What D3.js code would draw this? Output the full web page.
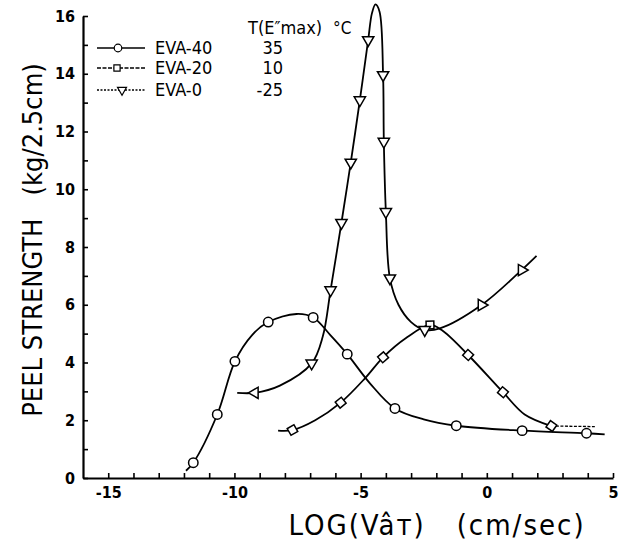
<!DOCTYPE html>
<html>
<head>
<meta charset="utf-8">
<script src="https://cdn.jsdelivr.net/npm/d3@7"></script>
<style>
  body { margin: 0; background: #fff; }
</style>
</head>
<body>
<script>
// ---- data ----
// curve paths (x = log(v*aT), y = peel strength)
const eva40Curve = [[-11.92,0.25],[-11.63,0.53],[-10.68,2.2],[-9.98,4.04],[-9.3,4.95],[-8.66,5.4],[-7.54,5.68],
  [-6.88,5.56],[-6.2,4.95],[-5.53,4.29],[-4.63,3.28],[-3.64,2.41],[-2.5,2.03],[-1.21,1.81],[1.4,1.64],[3.95,1.55],[4.67,1.51]];
const eva40Marks = [[-11.63,0.53],[-10.68,2.2],[-9.98,4.04],[-8.66,5.4],[-6.88,5.56],[-5.53,4.29],[-3.64,2.41],
  [-1.21,1.81],[1.4,1.64],[3.95,1.55]];

const eva20Curve = [[-8.27,1.64],[-7.7,1.66],[-6.8,2.0],[-5.79,2.61],[-4.83,3.45],[-4.11,4.18],[-3.2,4.85],
  [-2.25,5.3],[-1.8,5.13],[-0.74,4.26],[0.64,2.97],[1.5,2.2],[2.56,1.8]];
const eva20Tail = [[2.56,1.8],[4.28,1.78]];
const eva20Marks = [[-7.7,1.66],[-5.79,2.61],[-4.11,4.18],[-2.25,5.3],[-0.74,4.26],[0.64,2.97],[2.56,1.8]];

const eva0Curve = [[-9.89,2.95],[-9.19,2.95],[-8.2,3.2],[-6.94,3.97],[-6.5,4.9],[-6.19,6.51],[-5.76,8.84],
  [-5.39,10.93],[-5.03,13.09],[-4.7,15.17],[-4.55,16.1],[-4.41,16.4],[-4.25,16.15],[-4.11,13.96],[-4.08,11.65],
  [-4.0,9.22],[-3.84,6.92],[-3.5,6.0],[-3.0,5.4],[-2.46,5.13],[-1.86,5.18],[-0.21,5.99],[1.38,7.2],[1.97,7.69]];
const eva0Marks = [[-9.19,2.95],[-6.94,3.97],[-6.19,6.51],[-5.76,8.84],[-5.39,10.93],[-5.03,13.09],[-4.7,15.17],
  [-4.11,13.96],[-4.08,11.65],[-4.0,9.22],[-3.84,6.92],[-2.46,5.13],[-0.21,5.99],[1.38,7.2]];

const legendNames = ["EVA-40", "EVA-20", "EVA-0"];
const legendTemps = ["35", "10", "-25"];

const xTicks = d3.range(-15, 6);
const yTicks = d3.range(0, 17);

// ---- canvas ----
const svg = d3.select("body").append("svg")
    .attr("width", 628)
    .attr("height", 546)
    .style("background", "#fff");

const xScale = d3.scaleLinear().domain([-16, 5]).range([83, 613]);
const yScale = d3.scaleLinear().domain([0, 16]).range([478, 16]);

const tickFont = "'DejaVu Sans Condensed', 'DejaVu Sans', sans-serif";

// x axis, ticks point inward
const xAxis = d3.axisBottom(xScale)
    .tickValues(xTicks)
    .tickSizeInner(-5)
    .tickSizeOuter(0)
    .tickPadding(9)
    .tickFormat(d => d % 5 === 0 ? String(d) : "");
const gx = svg.append("g")
    .attr("transform", "translate(0," + yScale(0) + ")")
    .call(xAxis);

// y axis
const yAxis = d3.axisLeft(yScale)
    .tickValues(yTicks)
    .tickSizeInner(-5)
    .tickSizeOuter(0)
    .tickPadding(8)
    .tickFormat(d => d % 2 === 0 ? String(d) : "");
const gy = svg.append("g")
    .attr("transform", "translate(" + xScale(-16) + ",0)")
    .call(yAxis);

[gx, gy].forEach(g => {
  g.select(".domain").attr("stroke", "#000").attr("stroke-width", 2.2);
  g.selectAll(".tick line").attr("stroke", "#000").attr("stroke-width", 1.6);
  g.selectAll(".tick text")
    .attr("fill", "#000")
    .attr("font-family", tickFont)
    .attr("font-weight", "bold")
    .attr("font-size", "16px");
});

// ---- curves ----
const line = d3.line()
    .x(d => xScale(d[0]))
    .y(d => yScale(d[1]))
    .curve(d3.curveCatmullRom.alpha(0.5));

const plot = svg.append("g");

[eva40Curve, eva20Curve, eva0Curve].forEach(c => {
  plot.append("path")
      .attr("d", line(c))
      .attr("fill", "none")
      .attr("stroke", "#000")
      .attr("stroke-width", 1.8);
});

plot.append("path")
    .attr("d", line(eva20Tail))
    .attr("fill", "none")
    .attr("stroke", "#000")
    .attr("stroke-width", 1.3)
    .attr("stroke-dasharray", "3,1.5");

// markers
const circleSym = d3.symbol().type(d3.symbolCircle).size(70);
const squareSym = d3.symbol().type(d3.symbolSquare).size(60);
const triSym = d3.symbol().type(d3.symbolTriangle).size(55);

plot.selectAll(".m40")
  .data(eva40Marks).enter().append("path")
    .attr("class", "m40")
    .attr("d", circleSym)
    .attr("transform", d => "translate(" + xScale(d[0]) + "," + yScale(d[1]) + ")")
    .attr("fill", "#fff")
    .attr("stroke", "#000")
    .attr("stroke-width", 1.5);

// squares are turned along the curve
function tangentAngle(arr, i) {
  const a = arr[Math.max(i - 1, 0)], b = arr[Math.min(i + 1, arr.length - 1)];
  return Math.atan2(yScale(b[1]) - yScale(a[1]), xScale(b[0]) - xScale(a[0])) * 180 / Math.PI;
}
plot.selectAll(".m20")
  .data(eva20Marks).enter().append("path")
    .attr("class", "m20")
    .attr("d", squareSym)
    .attr("transform", (d, i) => "translate(" + xScale(d[0]) + "," + yScale(d[1]) + ") rotate(" + tangentAngle(eva20Marks, i) + ")")
    .attr("fill", "#fff")
    .attr("stroke", "#000")
    .attr("stroke-width", 1.5);

// triangles point down, the first one points left, the last rising ones point right
plot.selectAll(".m0")
  .data(eva0Marks).enter().append("path")
    .attr("class", "m0")
    .attr("d", triSym)
    .attr("transform", (d, i) => {
      let r = 180;
      if (i === 0) r = -90;
      else if (d[0] > -1) r = 90;
      return "translate(" + xScale(d[0]) + "," + yScale(d[1]) + ") rotate(" + r + ")";
    })
    .attr("fill", "#fff")
    .attr("stroke", "#000")
    .attr("stroke-width", 1.5);

// ---- legend ----
const lg = svg.append("g");
const legendFont = "'DejaVu Sans Condensed', 'DejaVu Sans', sans-serif";
const rowY = [48, 68, 90];
const dashes = [null, "4,1.5", "2,1.5"];
const legSyms = [circleSym, squareSym, triSym];
const legRot = [0, 0, 180];
const legMx = [118, 117, 122];

lg.append("text")
    .attr("x", 248).attr("y", 34)
    .attr("font-family", legendFont)
    .attr("font-size", "18px")
    .text("T(E\u2033max)");
lg.append("text")
    .attr("x", 333).attr("y", 34)
    .attr("font-family", legendFont)
    .attr("font-size", "17px")
    .text("\u00B0C");

legendNames.forEach((name, i) => {
  lg.append("line")
      .attr("x1", 97).attr("x2", 145)
      .attr("y1", rowY[i]).attr("y2", rowY[i])
      .attr("stroke", "#000")
      .attr("stroke-width", 1.5)
      .attr("stroke-dasharray", dashes[i]);
  lg.append("path")
      .attr("d", legSyms[i])
      .attr("transform", "translate(" + legMx[i] + "," + rowY[i] + ") rotate(" + legRot[i] + ") scale(0.8)")
      .attr("fill", "#fff")
      .attr("stroke", "#000")
      .attr("stroke-width", 1.5);
  lg.append("text")
      .attr("x", 155).attr("y", rowY[i] + 6)
      .attr("font-family", legendFont)
      .attr("font-size", "18px")
      .text(name);
  lg.append("text")
      .attr("x", 283).attr("y", rowY[i] + 6)
      .attr("text-anchor", "end")
      .attr("font-family", legendFont)
      .attr("font-size", "18px")
      .text(legendTemps[i]);
});

// ---- axis titles ----
svg.append("text")
    .attr("x", 437).attr("y", 535)
    .attr("text-anchor", "middle")
    .attr("font-family", legendFont)
    .attr("font-size", "29px")
    .attr("letter-spacing", "2px")
    .attr("xml:space", "preserve")
    .text("LOG(V\u00E2\u0442)   (cm/sec)");

svg.append("text")
    .attr("transform", "translate(42,240) rotate(-90)")
    .attr("text-anchor", "middle")
    .attr("font-family", legendFont)
    .attr("font-size", "27px")
    .attr("xml:space", "preserve")
    .text("PEEL STRENGTH   (kg/2.5cm)");
</script>
</body>
</html>
